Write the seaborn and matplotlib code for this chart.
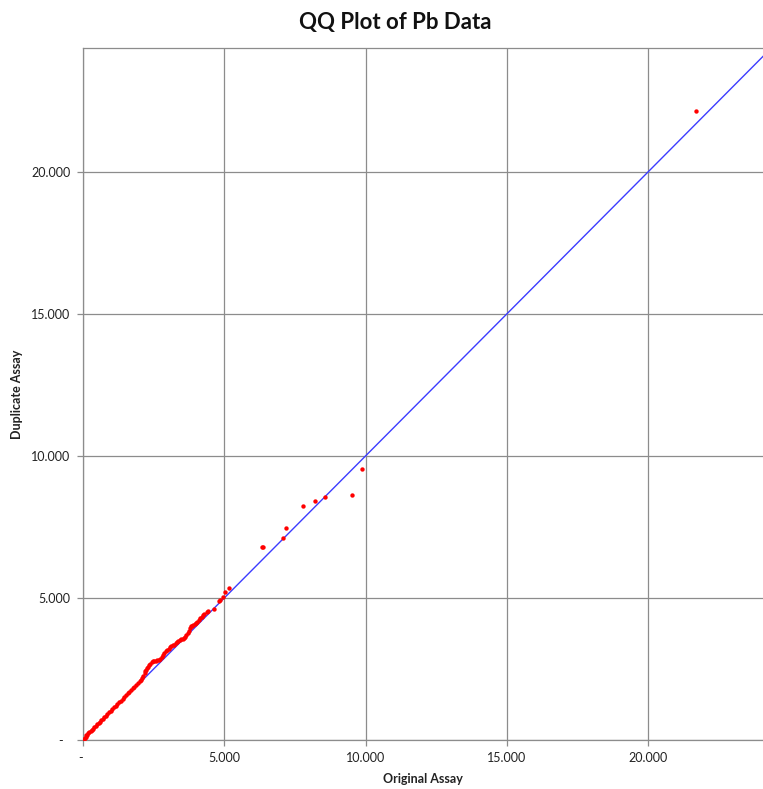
import matplotlib
matplotlib.use("Agg")
import matplotlib.pyplot as plt
import seaborn as sns
import pandas as pd
from matplotlib.ticker import FuncFormatter, MultipleLocator

# ---- data (sorted quantiles) ----
original_assay = [0.00, 0.03, 0.06, 0.09, 0.12, 0.15, 0.19, 0.23, 0.27, 0.31,
                  0.35, 0.40, 0.45, 0.50, 0.55, 0.60, 0.65, 0.70, 0.75, 0.80,
                  0.86, 0.92, 0.98, 1.04, 1.10, 1.16, 1.22, 1.28, 1.34, 1.40,
                  1.46, 1.52, 1.58, 1.64, 1.70, 1.76, 1.82, 1.88, 1.94, 2.00,
                  2.05, 2.10, 2.14, 2.18, 2.21, 2.24, 2.27, 2.30, 2.34, 2.38,
                  2.43, 2.48, 2.53, 2.58, 2.63, 2.68, 2.73, 2.78, 2.83, 2.88,
                  2.93, 2.98, 3.03, 3.08, 3.13, 3.18, 3.23, 3.28, 3.33, 3.38,
                  3.43, 3.48, 3.53, 3.58, 3.62, 3.66, 3.70, 3.74, 3.78, 3.82,
                  3.86, 3.90, 3.95, 4.00, 4.05, 4.10, 4.15, 4.20, 4.25, 4.29,
                  4.40, 4.44, 4.62, 4.80, 4.86, 4.96, 5.04, 5.18,
                  6.33, 6.38, 7.09, 7.19, 7.78, 8.21, 8.56, 9.52, 9.86, 21.69]
duplicate_assay = [0.00, 0.04, 0.08, 0.12, 0.16, 0.19, 0.23, 0.28, 0.32, 0.36,
                   0.40, 0.45, 0.50, 0.55, 0.60, 0.65, 0.70, 0.75, 0.80, 0.85,
                   0.91, 0.97, 1.03, 1.09, 1.15, 1.21, 1.27, 1.33, 1.39, 1.46,
                   1.52, 1.58, 1.64, 1.70, 1.76, 1.82, 1.88, 1.94, 2.00, 2.06,
                   2.11, 2.17, 2.24, 2.35, 2.42, 2.48, 2.53, 2.58, 2.64, 2.68,
                   2.74, 2.77, 2.78, 2.79, 2.80, 2.82, 2.86, 2.92, 2.98, 3.05,
                   3.12, 3.18, 3.22, 3.26, 3.30, 3.33, 3.36, 3.41, 3.46, 3.49,
                   3.52, 3.54, 3.56, 3.58, 3.62, 3.70, 3.78, 3.84, 3.95, 4.00,
                   4.03, 4.06, 4.09, 4.12, 4.16, 4.22, 4.28, 4.33, 4.40, 4.45,
                   4.50, 4.54, 4.60, 4.89, 4.94, 5.05, 5.21, 5.35,
                   6.78, 6.80, 7.10, 7.48, 8.23, 8.43, 8.56, 8.64, 9.54, 22.14]
reference_line = [0.0, 30.0]

df = pd.DataFrame({"Original Assay": original_assay,
                   "Duplicate Assay": duplicate_assay})
line_df = pd.DataFrame({"x": reference_line, "y": reference_line})

sns.set_theme(style="white")
plt.rcParams["font.family"] = ["Lato", "DejaVu Sans"]

fig = plt.figure(figsize=(7.63, 7.89), dpi=100)
ax = fig.add_axes([83 / 763, 49 / 789, 680 / 763, 692 / 789])

sns.lineplot(data=line_df, x="x", y="y", ax=ax, color="#3c3cff",
             linewidth=1.0, zorder=3)
sns.scatterplot(data=df, x="Original Assay", y="Duplicate Assay", ax=ax,
                color="#ff0000", marker="o", s=10, linewidth=0, zorder=4)

ax.set_xlim(0, 680 / 28.25)
ax.set_ylim(0, 692 / 28.4)
ax.xaxis.set_major_locator(MultipleLocator(5))
ax.yaxis.set_major_locator(MultipleLocator(5))

ax.xaxis.set_major_formatter(FuncFormatter(lambda v, p: "- " if abs(v) < 1e-9 else f"{v:.3f}"))
ax.yaxis.set_major_formatter(FuncFormatter(lambda v, p: "-  " if abs(v) < 1e-9 else f"{v:.3f}"))

ax.grid(True, color="#8c8c8c", linewidth=0.9)
ax.set_axisbelow(True)
for side in ["left", "top", "bottom"]:
    ax.spines[side].set_color("#8c8c8c")
    ax.spines[side].set_linewidth(0.9)
ax.spines["right"].set_visible(False)

ax.tick_params(axis="both", which="major", direction="out", length=4,
               width=0.9, color="#8c8c8c", labelsize=9, labelcolor="#222222",
               left=True, bottom=True, pad=5)

ax.set_xlabel("Original Assay", fontsize=9, fontweight="bold", color="#222222", labelpad=6)
ax.set_ylabel("Duplicate Assay", fontsize=9, fontweight="bold", color="#222222", labelpad=6)

fig.text(395 / 763, 1 - 22 / 789, "QQ Plot of Pb Data", ha="center", va="center",
         fontsize=16, fontweight="bold", color="#111111")

fig.savefig("out.png", dpi=100)
